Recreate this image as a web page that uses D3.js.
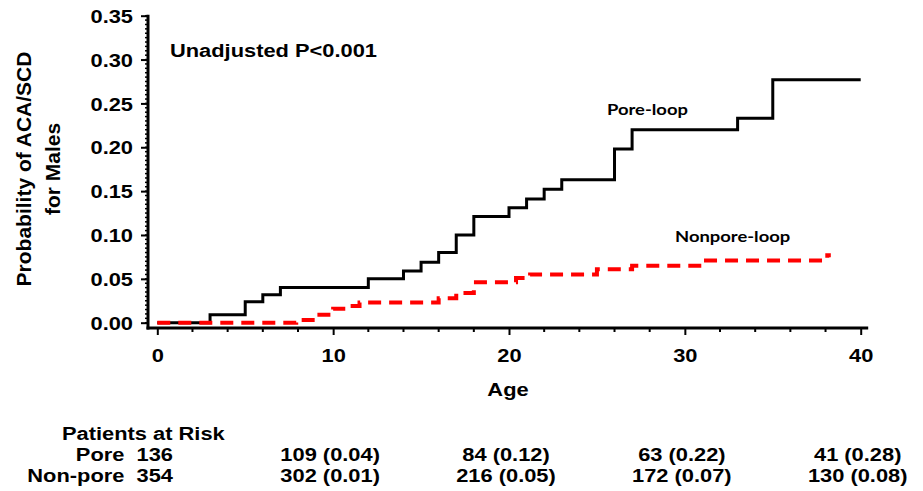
<!DOCTYPE html>
<html>
<head>
<meta charset="utf-8">
<script src="https://cdn.jsdelivr.net/npm/d3@7"></script>
<style>
  body { margin: 0; background: #fff; }
  svg text { font-family: "Liberation Sans", Arial, sans-serif; font-weight: bold; fill: #000; }
</style>
</head>
<body>
<svg id="chart" width="923" height="491"></svg>
<script>
// data
var ageTicks = [0, 10, 20, 30, 40];
var probTicks = [0, 0.05, 0.10, 0.15, 0.20, 0.25, 0.30, 0.35];

var poreAge  = [0, 3, 5, 6, 7, 12, 14, 15, 16, 17, 18, 20, 21, 22, 23, 26, 27, 33, 35, 40];
var poreProb = [0, 0.009, 0.024, 0.032, 0.040, 0.050, 0.059, 0.069, 0.080, 0.100, 0.121,
                0.131, 0.141, 0.152, 0.163, 0.198, 0.220, 0.233, 0.277, 0.277];

var nonporeAge  = [0, 7.9, 9, 10, 10.9, 11.5, 16, 17, 18, 20.4, 21.2, 25, 27, 31, 38.1, 38.3];
var nonporeProb = [0, 0.003, 0.009, 0.016, 0.019, 0.023, 0.028, 0.034, 0.046, 0.051, 0.055,
                   0.061, 0.065, 0.071, 0.077, 0.077];

var riskGroups = ["Pore", "Non-pore"];
var riskStart = [136, 354];
var riskAges = [10, 20, 30, 40];
var poreAtRisk = [109, 84, 63, 41];
var poreCum = ["0.04", "0.12", "0.22", "0.28"];
var nonporeAtRisk = [302, 216, 172, 130];
var nonporeCum = ["0.01", "0.05", "0.07", "0.08"];

var SX = 1.15; // the picture's text is a bit wider than tall

var svg = d3.select("#chart");

var x = d3.scaleLinear().domain([0, 40]).range([157.3, 860.7]);
var y = d3.scaleLinear().domain([0, 0.35]).range([322.7, 15.7]);

var axisY0 = 328, axisX0 = 148;

// stretched text helper
function label(g, txt, tx, ty, size, anchor, family) {
    var t = g.append("text")
        .attr("transform", "translate(" + tx + "," + ty + ") scale(" + SX + ",1)")
        .attr("text-anchor", anchor || "start")
        .style("font-size", size + "px")
        .style("white-space", "pre")
        .text(txt);
    if (family) t.style("font-family", family);
    return t;
}

// x axis
var gx = svg.append("g").attr("transform", "translate(0," + axisY0 + ")");
gx.call(d3.axisBottom(x).tickValues(ageTicks).tickSize(7).tickSizeOuter(0).tickFormat(d3.format("d")));
gx.select(".domain").remove();
gx.selectAll(".tick line").attr("stroke-width", 2);
gx.selectAll(".tick text")
    .attr("y", 0).attr("dy", 0)
    .attr("transform", "translate(0,34) scale(" + SX + ",1)")
    .style("font-size", "19px");
gx.selectAll(".minor").data(x.ticks(16).filter(function (d) { return ageTicks.indexOf(d) < 0; }))
    .enter().append("line")
    .attr("x1", function (d) { return x(d); }).attr("x2", function (d) { return x(d); })
    .attr("y1", 0).attr("y2", 4)
    .attr("stroke", "#000").attr("stroke-width", 2);
gx.append("line")
    .attr("x1", axisX0 - 1.5).attr("x2", x(40) + 7.5)
    .attr("y1", 0).attr("y2", 0)
    .attr("stroke", "#000").attr("stroke-width", 3);

// y axis
var gy = svg.append("g").attr("transform", "translate(" + axisX0 + ",0)");
gy.call(d3.axisLeft(y).tickValues(probTicks).tickSize(7).tickSizeOuter(0).tickFormat(d3.format(".2f")));
gy.select(".domain").remove();
gy.selectAll(".tick line").attr("stroke-width", 2);
gy.selectAll(".tick text")
    .attr("x", 0).attr("dy", "0.35em")
    .attr("transform", "translate(-15,0) scale(" + SX + ",1)")
    .style("font-size", "19px");
gy.selectAll(".minor").data(y.ticks(70))
    .enter().append("line")
    .attr("y1", function (d) { return y(d); }).attr("y2", function (d) { return y(d); })
    .attr("x1", 0).attr("x2", -3)
    .attr("stroke", "#000").attr("stroke-width", 1.5);
gy.append("line")
    .attr("x1", 0).attr("x2", 0)
    .attr("y1", y(0.35) - 1).attr("y2", axisY0 + 1.5)
    .attr("stroke", "#000").attr("stroke-width", 3);

// y title (two lines)
var yt = svg.append("text")
    .attr("transform", "translate(31,169) rotate(-90)")
    .attr("text-anchor", "middle")
    .style("font-size", "21px");
yt.append("tspan").attr("x", 0).attr("y", 0).text("Probability of ACA/SCD");
yt.append("tspan").attr("x", 0).attr("y", 29).text("for Males");

// x title
label(svg, "Age", 508, 396, 19, "middle");

// curves
var step = d3.line()
    .x(function (d) { return x(d[0]); })
    .y(function (d) { return y(d[1]); })
    .curve(d3.curveStepAfter);

svg.append("path")
    .datum(d3.zip(poreAge, poreProb))
    .attr("d", step)
    .attr("fill", "none")
    .attr("stroke", "#000")
    .attr("stroke-width", 3);

svg.append("path")
    .datum(d3.zip(nonporeAge, nonporeProb))
    .attr("d", step)
    .attr("fill", "none")
    .attr("stroke", "#ff0000")
    .attr("stroke-width", 4)
    .attr("stroke-dasharray", "13,8");

// annotations
label(svg, "Unadjusted P<0.001", 170, 57, 19, "start");
label(svg, "Pore-loop", 607, 115, 16, "start", "Lato, 'Open Sans', sans-serif");
label(svg, "Nonpore-loop", 675, 242, 16, "start", "Lato, 'Open Sans', sans-serif");

// patients at risk table
label(svg, "Patients at Risk", 62, 440, 19, "start");
var rowY = [461, 482];
var counts = [poreAtRisk, nonporeAtRisk];
var cums = [poreCum, nonporeCum];
riskGroups.forEach(function (grp, r) {
    label(svg, grp + "  " + riskStart[r], 173, rowY[r], 19, "end");
    riskAges.forEach(function (a, i) {
        label(svg, counts[r][i] + " (" + cums[r][i] + ")", x(a) - 3, rowY[r], 19, "middle");
    });
});
</script>
</body>
</html>
